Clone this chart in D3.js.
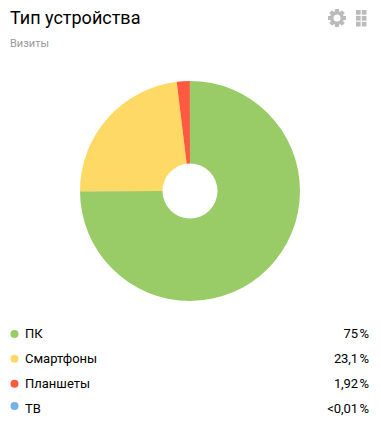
<!DOCTYPE html>
<html><head><meta charset="utf-8">
<script src="https://cdn.jsdelivr.net/npm/d3@7"></script>
<style>html,body{margin:0;padding:0;background:#fff;}svg{display:block;}text{font-family:Roboto,sans-serif;}</style>
</head><body><div id="c"></div>
<script>
const categories=["ПК","Смартфоны","Планшеты","ТВ"];
const values=[75,23.1,1.92,0.01];
const valueLabels=["75 %","23,1 %","1,92 %","<0,01 %"];
const colors=["#99cc66","#ffd966","#ff5a40","#74b3e8"];
const title="Тип устройства";
const subtitle="Визиты";
const W=381,H=427;
const svg=d3.select("#c").append("svg").attr("width",W).attr("height",H);
svg.append("text").attr("x",10).attr("y",24).attr("font-size",18).attr("fill","#000").text(title);
svg.append("text").attr("x",10).attr("y",47).attr("font-size",11).attr("fill","#999").text(subtitle);
// icons
const gear=svg.append("g").attr("transform","translate(337,18)").attr("fill","#bbb");
gear.selectAll("rect").data(d3.range(8)).join("rect")
 .attr("x",-2).attr("y",-9).attr("width",4).attr("height",5)
 .attr("transform",d=>`rotate(${d*45})`);
gear.append("circle").attr("r",5.2).attr("fill","none").attr("stroke","#bbb").attr("stroke-width",3.4);
const gx=d3.scaleBand().domain([0,1]).range([356,366.5]).paddingInner(0.2);
const gy=d3.scaleBand().domain([0,1,2]).range([10,26.5]).paddingInner(0.2);
svg.append("g").selectAll("rect").data(d3.cross([0,1],[0,1,2])).join("rect")
 .attr("x",d=>gx(d[0])).attr("y",d=>gy(d[1])).attr("width",gx.bandwidth()).attr("height",gy.bandwidth()).attr("fill","#bbb");
// pie
const pie=d3.pie().sort(null).value(d=>d.v);
const arc=d3.arc().innerRadius(27.5).outerRadius(110);
const rows=categories.map((c,i)=>({c,v:values[i],l:valueLabels[i],col:colors[i]}));
svg.append("g").attr("transform","translate(190,191)").selectAll("path").data(pie(rows)).join("path")
 .attr("d",arc).attr("fill",d=>d.data.col);
// legend
const y=d3.scalePoint().domain(categories).range([333.5,408]);
const lg=svg.append("g").selectAll("g").data(rows).join("g").attr("transform",d=>`translate(0,${y(d.c)})`);
lg.append("circle").attr("cx",14.5).attr("cy",(d,i)=>i===3?-2:0.5).attr("r",4).attr("fill",d=>d.col);
lg.append("text").attr("x",25).attr("y",4.5).attr("font-size",13).attr("fill","#000").text(d=>d.c);
lg.append("text").attr("x",369).attr("y",4.5).attr("text-anchor","end").attr("font-size",13).attr("word-spacing",-1.5).attr("letter-spacing",-0.1).attr("fill","#000").text(d=>d.l);
</script></body></html>
